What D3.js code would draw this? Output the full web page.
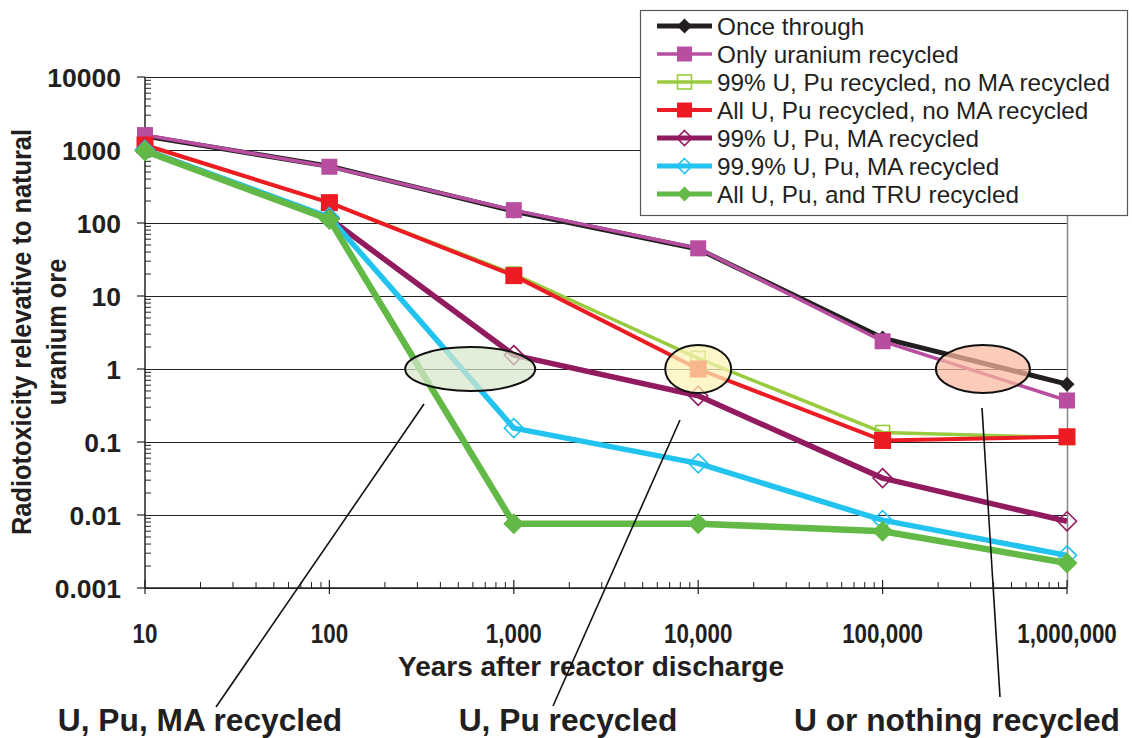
<!DOCTYPE html>
<html>
<head>
<meta charset="utf-8">
<script src="https://cdn.jsdelivr.net/npm/d3@7"></script>
<style>
  html, body { margin: 0; padding: 0; background: #fff; }
  svg { display: block; font-family: "Liberation Sans", Arial, sans-serif; }
</style>
</head>
<body>
<svg id="chart" width="1132" height="738"></svg>
<script>
// Years after discharge (x categories)
const years = [10, 100, 1000, 10000, 100000, 1000000];
const xTickLabels = ["10", "100", "1,000", "10,000", "100,000", "1,000,000"];
const yTickValues = [10000, 1000, 100, 10, 1, 0.1, 0.01, 0.001];
const yTickLabels = ["10000", "1000", "100", "10", "1", "0.1", "0.01", "0.001"];

// Radiotoxicity relative to natural uranium ore, per scenario
const onceThrough      = [1550, 600, 145, 44, 2.65, 0.62];
const onlyUranium      = [1600, 590, 150, 45, 2.4, 0.37];
const upu99NoMA        = [1150, 190, 20, 1.4, 0.135, 0.115];
const upuAllNoMA       = [1170, 190, 19, 1.0, 0.105, 0.118];
const upuMA99          = [1000, 115, 1.55, 0.43, 0.032, 0.0082];
const upuMA999         = [1000, 120, 0.155, 0.051, 0.0085, 0.0028];
const allTRU           = [970, 112, 0.0076, 0.0076, 0.006, 0.0022];

const seriesNames = [
  "Once through",
  "Only uranium recycled",
  "99% U, Pu recycled, no MA recycled",
  "All U, Pu recycled, no MA recycled",
  "99% U, Pu, MA recycled",
  "99.9% U, Pu, MA recycled",
  "All U, Pu, and TRU recycled"
];
const seriesValues = [onceThrough, onlyUranium, upu99NoMA, upuAllNoMA, upuMA99, upuMA999, allTRU];

// Styling per scenario
const styles = [
  { color: "#231f20", width: 5,   shape: "diamond", size: 15, filled: true },
  { color: "#b84ea0", width: 3.5, shape: "square",  size: 16, filled: true },
  { color: "#98cb3e", width: 3.5, shape: "square",  size: 14, filled: false },
  { color: "#ed1c24", width: 4,   shape: "square",  size: 17, filled: true },
  { color: "#921a5f", width: 5.5, shape: "diamond", size: 19, filled: false },
  { color: "#23c3f0", width: 5.5, shape: "diamond", size: 19, filled: false },
  { color: "#62b946", width: 6.5, shape: "diamond", size: 21, filled: true }
];

// Highlight regions (year centre, value centre, radii in px) and their captions
const highlightCenters = [580, 10000, 350000];
const highlightRadii = [[65, 22], [33, 24], [47, 24]];
const highlightFills = ["#d7e8cc", "#fbf2b4", "#f9b8a0"];
const calloutLabels = ["U, Pu, MA recycled", "U, Pu recycled", "U or nothing recycled"];

const svg = d3.select("#chart");
const ink = "#231f20";

const x = d3.scaleLog().domain([10, 1e6]).range([145, 1067]);
const y = d3.scaleLog().domain([0.001, 10000]).range([588, 77]);

// Text helper with optional horizontal squeeze
function label(g, tx, ty, str, opts) {
  const sx = opts.sx || 1;
  return g.append("text")
    .attr("transform", `translate(${tx},${ty}) scale(${sx},1)`)
    .attr("text-anchor", opts.anchor || "start")
    .attr("font-size", opts.size)
    .attr("font-weight", opts.weight || "normal")
    .attr("fill", ink)
    .text(str);
}

// Horizontal gridlines at each decade
svg.append("g")
  .selectAll("line")
  .data(yTickValues)
  .join("line")
  .attr("x1", x(10)).attr("x2", x(1e6))
  .attr("y1", d => Math.round(y(d)) + 0.5).attr("y2", d => Math.round(y(d)) + 0.5)
  .attr("stroke", "#222").attr("stroke-width", 1);

// Right border of plot
svg.append("line")
  .attr("x1", x(1e6) + 0.5).attr("x2", x(1e6) + 0.5)
  .attr("y1", y(10000)).attr("y2", y(0.001))
  .attr("stroke", "#888").attr("stroke-width", 1.5);

// Y axis (log) with major ticks outside and minor ticks inside
const yMinor = [];
for (let e = -3; e < 4; e++) for (let m = 2; m <= 9; m++) yMinor.push(m * Math.pow(10, e));
const yAxisG = svg.append("g");
yAxisG.append("line")
  .attr("x1", x(10)).attr("x2", x(10))
  .attr("y1", y(10000)).attr("y2", y(0.001))
  .attr("stroke", "#222").attr("stroke-width", 1.5);
yAxisG.selectAll("line.minor").data(yMinor).join("line").attr("class", "minor")
  .attr("x1", x(10)).attr("x2", x(10) + 6)
  .attr("y1", d => y(d)).attr("y2", d => y(d))
  .attr("stroke", "#222").attr("stroke-width", 1);
yAxisG.selectAll("line.major").data(yTickValues).join("line").attr("class", "major")
  .attr("x1", x(10) - 8).attr("x2", x(10))
  .attr("y1", d => y(d)).attr("y2", d => y(d))
  .attr("stroke", "#222").attr("stroke-width", 1.2);
yTickValues.forEach((v, i) => {
  label(yAxisG, 121, y(v) + 9.5, yTickLabels[i], { size: 26.5, weight: "bold", anchor: "end" });
});

// X axis (log) with minor ticks inside
const xMinor = [];
for (let e = 1; e < 6; e++) for (let m = 2; m <= 9; m++) xMinor.push(m * Math.pow(10, e));
const xAxisG = svg.append("g");
xAxisG.append("line")
  .attr("x1", x(10)).attr("x2", x(1e6))
  .attr("y1", y(0.001)).attr("y2", y(0.001))
  .attr("stroke", "#222").attr("stroke-width", 1.5);
xAxisG.selectAll("line.minor").data(xMinor).join("line").attr("class", "minor")
  .attr("x1", d => x(d)).attr("x2", d => x(d))
  .attr("y1", y(0.001)).attr("y2", y(0.001) - 6)
  .attr("stroke", "#222").attr("stroke-width", 1);
xAxisG.selectAll("line.major").data(years).join("line").attr("class", "major")
  .attr("x1", d => x(d)).attr("x2", d => x(d))
  .attr("y1", y(0.001) - 8).attr("y2", y(0.001) + 6)
  .attr("stroke", "#222").attr("stroke-width", 1.2);
years.forEach((yr, i) => {
  label(xAxisG, x(yr), 643, xTickLabels[i], { size: 28, weight: "bold", anchor: "middle", sx: 0.8 });
});

// Axis titles
label(svg, 591, 676, "Years after reactor discharge", { size: 28, weight: "bold", anchor: "middle" });
const yTitle = svg.append("text")
  .attr("transform", "translate(31,332) rotate(-90) scale(0.94,1)")
  .attr("text-anchor", "middle")
  .attr("font-size", 27).attr("font-weight", "bold").attr("fill", ink);
yTitle.append("tspan").attr("x", 0).attr("dy", 0).text("Radiotoxicity relevative to natural");
yTitle.append("tspan").attr("x", 0).attr("dy", 35).text("uranium ore");

// Marker drawing helper
function marker(g, s, cx, cy) {
  const h = s.size / 2;
  const sw = s.filled ? 0 : 1.6;
  if (s.shape === "square") {
    g.append("rect")
      .attr("x", cx - h).attr("y", cy - h).attr("width", s.size).attr("height", s.size)
      .attr("fill", s.filled ? s.color : "none").attr("stroke", s.color).attr("stroke-width", sw);
  } else {
    g.append("path")
      .attr("d", `M${cx},${cy - h}L${cx + h},${cy}L${cx},${cy + h}L${cx - h},${cy}Z`)
      .attr("fill", s.filled ? s.color : "none").attr("stroke", s.color).attr("stroke-width", sw);
  }
}

// Series lines and markers
const line = d3.line().x(d => x(d[0])).y(d => y(d[1]));
const plotG = svg.append("g");
seriesValues.forEach((vals, i) => {
  const s = styles[i];
  const pts = years.map((yr, j) => [yr, vals[j]]);
  const g = plotG.append("g");
  g.append("path")
    .attr("d", line(pts))
    .attr("fill", "none").attr("stroke", s.color).attr("stroke-width", s.width)
    .attr("stroke-linejoin", "round");
  pts.forEach(p => marker(g, s, x(p[0]), y(p[1])));
});

// Highlight ellipses
svg.append("g").selectAll("ellipse").data(highlightCenters).join("ellipse")
  .attr("cx", d => x(d)).attr("cy", y(1))
  .attr("rx", (d, i) => highlightRadii[i][0]).attr("ry", (d, i) => highlightRadii[i][1])
  .attr("fill", (d, i) => highlightFills[i]).attr("fill-opacity", 0.72)
  .attr("stroke", "#111").attr("stroke-width", 2);

// Callout leader lines and captions
const leaders = [
  [[424, 404], [216, 707]],
  [[680, 420], [553, 706]],
  [[982, 408], [1000, 697]]
];
svg.append("g").selectAll("line").data(leaders).join("line")
  .attr("x1", d => d[0][0]).attr("y1", d => d[0][1])
  .attr("x2", d => d[1][0]).attr("y2", d => d[1][1])
  .attr("stroke", "#111").attr("stroke-width", 1.6);
const captionX = [200, 568, 957];
const captionG = svg.append("g");
calloutLabels.forEach((t, i) => {
  label(captionG, captionX[i], 731, t, { size: 30.5, weight: "bold", anchor: "middle", sx: 1.04 });
});

// Legend
const legend = svg.append("g").attr("transform", "translate(640,10)");
legend.append("rect")
  .attr("x", 0.5).attr("y", 0.5).attr("width", 487).attr("height", 205)
  .attr("fill", "#fff").attr("stroke", "#555").attr("stroke-width", 1.2);
seriesNames.forEach((name, i) => {
  const s = styles[i];
  const cy = 16 + i * 28;
  const g = legend.append("g");
  g.append("line")
    .attr("x1", 17).attr("x2", 72).attr("y1", cy).attr("y2", cy)
    .attr("stroke", s.color).attr("stroke-width", Math.min(s.width, 5));
  marker(g, { ...s, size: Math.min(s.size, 15) }, 44.5, cy);
  label(g, 77, cy + 8.5, name, { size: 24.3 });
});
</script>
</body>
</html>
